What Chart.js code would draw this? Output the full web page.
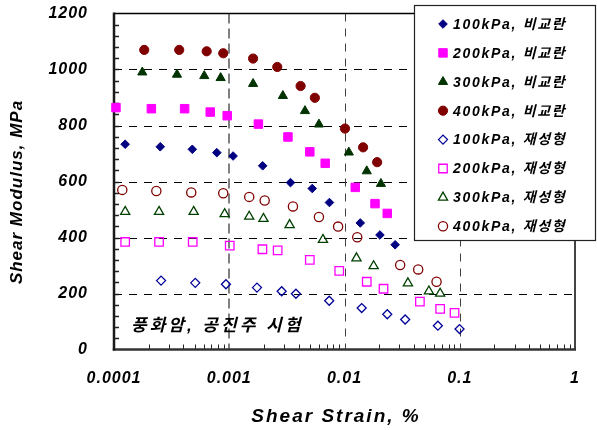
<!DOCTYPE html>
<html>
<head>
<meta charset="utf-8">
<script src="https://cdn.jsdelivr.net/npm/chart.js@4/dist/chart.umd.min.js"></script>
<style>
  html, body { margin: 0; padding: 0; background: #fff; }
  #chart { display: block; width: 597px; height: 430px; }
</style>
</head>
<body>
<canvas id="chart" width="597" height="430"></canvas>
<script>
// ---- data ----
const seriesLabels = [
  '100kPa, 비교란', '200kPa, 비교란', '300kPa, 비교란', '400kPa, 비교란',
  '100kPa, 재성형', '200kPa, 재성형', '300kPa, 재성형', '400kPa, 재성형'
];

// undisturbed (비교란)
const strain100U = [0.000125, 0.000252, 0.000478, 0.00078, 0.00108, 0.00195, 0.0034, 0.00525, 0.0074, 0.0137, 0.0203, 0.0275];
const modulus100U = [733, 724, 715, 703, 691, 656, 596, 575, 525, 452, 409, 374];
const strain200U = [0.000104, 0.000211, 0.00041, 0.000684, 0.00096, 0.00179, 0.00323, 0.0050, 0.0068, 0.0124, 0.0184, 0.0235];
const modulus200U = [864, 860, 860, 848, 835, 805, 759, 706, 665, 579, 521, 486];
const strain300U = [0.000176, 0.000352, 0.000607, 0.000842, 0.00161, 0.00292, 0.00454, 0.0060, 0.0109, 0.0156, 0.0207];
const modulus300U = [990, 982, 977, 970, 949, 906, 852, 804, 704, 637, 592];
const strain400U = [0.000183, 0.000368, 0.000637, 0.000887, 0.00161, 0.00261, 0.00416, 0.00553, 0.0101, 0.0145, 0.0192];
const modulus400U = [1070, 1070, 1065, 1058, 1039, 1009, 941, 899, 789, 722, 669];

// remolded (재성형)
const strain100R = [0.000256, 0.000507, 0.000936, 0.00174, 0.00285, 0.00379, 0.00737, 0.0141, 0.0235, 0.0336, 0.0646, 0.0996];
const modulus100R = [246, 238, 233, 221, 208, 199, 174, 148, 126, 107, 85, 73];
const strain200R = [0.000125, 0.000246, 0.000482, 0.00101, 0.00194, 0.00263, 0.0050, 0.0090, 0.0156, 0.0218, 0.0451, 0.0676, 0.0901];
const modulus200R = [384, 384, 384, 371, 358, 354, 320, 281, 242, 217, 171, 145, 131];
const strain300R = [0.000125, 0.000246, 0.000491, 0.000912, 0.00149, 0.00198, 0.00334, 0.0065, 0.0127, 0.0179, 0.0355, 0.054, 0.0676];
const modulus300R = [492, 492, 492, 484, 475, 467, 445, 392, 326, 298, 237, 208, 200];
const strain400R = [0.000118, 0.000233, 0.000468, 0.000887, 0.00149, 0.00203, 0.00357, 0.0060, 0.0088, 0.0129, 0.0304, 0.0436, 0.0629];
const modulus400R = [570, 566, 561, 558, 545, 532, 511, 473, 439, 401, 302, 286, 242];

const xTickValues = [0.0001, 0.001, 0.01, 0.1, 1];
const xTickLabels = ['0.0001', '0.001', '0.01', '0.1', '1'];
const yMin = 0, yMax = 1200, yStep = 200, yMinorStep = 40;

const xTitle = 'Shear Strain, %';
const yTitle = 'Shear Modulus, MPa';
const noteText = '풍화암, 공진주 시험';

// ---- styles ----
const FONT = '"Liberation Sans", Arial, "Noto Sans CJK KR", sans-serif';
const markerStyles = [
  { shape: 'rectRot',  color: '#000080', filled: true,  r: 4.3 },
  { shape: 'rect',     color: '#ff00ff', filled: true,  r: 6 },
  { shape: 'triangle', color: '#003300', filled: true,  r: 5.3 },
  { shape: 'circle',   color: '#800000', filled: true,  r: 4.6 },
  { shape: 'rectRot',  color: '#000099', filled: false, r: 4.5 },
  { shape: 'rect',     color: '#ff00ff', filled: false, r: 6 },
  { shape: 'triangle', color: '#004000', filled: false, r: 5.3 },
  { shape: 'circle',   color: '#800000', filled: false, r: 4.6 }
];

const xs = [strain100U, strain200U, strain300U, strain400U, strain100R, strain200R, strain300R, strain400R];
const ys = [modulus100U, modulus200U, modulus300U, modulus400U, modulus100R, modulus200R, modulus300R, modulus400R];

function pairs(a, b) {
  return a.map((x, i) => ({ x: x, y: b[i] }));
}

const datasets = seriesLabels.map((label, i) => {
  const s = markerStyles[i];
  return {
    label: label,
    data: pairs(xs[i], ys[i]),
    pointStyle: s.shape,
    pointRadius: s.r,
    pointBorderWidth: s.filled ? 1 : 1.3,
    pointBackgroundColor: s.filled ? s.color : 'rgba(0,0,0,0)',
    pointBorderColor: s.color,
    showLine: false,
    clip: false
  };
});

function line(ctx, x1, y1, x2, y2) {
  ctx.beginPath();
  ctx.moveTo(x1, y1);
  ctx.lineTo(x2, y2);
  ctx.stroke();
}

function noPadding(s) {
  s.paddingTop = 0;
  s.paddingBottom = 0;
  s.paddingLeft = 0;
  s.paddingRight = 0;
}

// grid, minor ticks, frame, legend box and texts
const framePlugin = {
  id: 'frame',
  beforeDraw(chart) {
    chart.ctx.letterSpacing = '1px';
  },
  beforeDatasetsDraw(chart) {
    const ctx = chart.ctx;
    const a = chart.chartArea;
    const x = chart.scales.x, y = chart.scales.y;
    ctx.save();

    // horizontal dashed grid
    ctx.setLineDash([8, 7]);
    ctx.strokeStyle = '#000';
    ctx.lineWidth = 1;
    for (let v = yMin + yStep; v < yMax; v += yStep) {
      const py = Math.round(y.getPixelForValue(v)) + 0.5;
      line(ctx, a.left, py, a.right, py);
    }
    // vertical dashed grid
    xTickValues.slice(1, -1).forEach((v, i) => {
      const px = Math.round(x.getPixelForValue(v));
      ctx.strokeStyle = i === 0 ? '#808080' : '#404040';
      ctx.lineWidth = i === 0 ? 2 : 1;
      ctx.setLineDash(i === 0 ? [10, 5] : [8, 7]);
      line(ctx, px + (i === 0 ? 0 : 0.5), a.top, px + (i === 0 ? 0 : 0.5), a.bottom);
    });
    ctx.setLineDash([]);

    // minor ticks
    ctx.strokeStyle = '#222';
    ctx.lineWidth = 1.5;
    for (let v = yMin + yMinorStep; v < yMax; v += yMinorStep) {
      const py = Math.round(y.getPixelForValue(v)) + 0.5;
      line(ctx, a.left, py, a.left + 5, py);
    }
    ctx.lineWidth = 1;
    for (let d = 0; d < xTickValues.length - 1; d++) {
      for (let k = 2; k <= 9; k++) {
        const px = Math.round(x.getPixelForValue(xTickValues[d] * k)) + 0.5;
        line(ctx, px, a.bottom, px, a.bottom - 5);
      }
    }

    // frame
    ctx.strokeStyle = '#000';
    ctx.lineWidth = 1.5;
    line(ctx, a.left, a.top, a.right, a.top);
    ctx.strokeStyle = '#444';
    ctx.lineWidth = 2;
    line(ctx, a.right, a.top, a.right, a.bottom);
    ctx.strokeStyle = '#333';
    ctx.lineWidth = 2.5;
    line(ctx, a.left - 1.25, a.bottom, a.right + 1, a.bottom);
    ctx.strokeStyle = '#1a1a1a';
    line(ctx, a.left, a.top - 1, a.left, a.bottom + 1);
    ctx.restore();
  },
  afterDatasetsDraw(chart) {
    const ctx = chart.ctx;
    ctx.save();

    // legend box
    ctx.fillStyle = '#fff';
    ctx.fillRect(414.5, 5.5, 181, 235);
    ctx.strokeStyle = '#222';
    ctx.lineWidth = 1.2;
    ctx.strokeRect(414.5, 5.5, 181, 235);

    chart.data.datasets.forEach((ds, i) => {
      const cy = 24 + i * 28.9;
      ctx.fillStyle = ds.pointBackgroundColor;
      ctx.strokeStyle = ds.pointBorderColor;
      ctx.lineWidth = ds.pointBorderWidth;
      Chart.helpers.drawPoint(ctx, {
        pointStyle: ds.pointStyle,
        radius: ds.pointRadius,
        borderWidth: ds.pointBorderWidth,
        rotation: 0
      }, 443, cy);
      ctx.fillStyle = '#000';
      ctx.font = 'italic bold 14px ' + FONT;
      ctx.letterSpacing = '1.7px';
      ctx.textAlign = 'left';
      ctx.textBaseline = 'middle';
      ctx.fillText(ds.label, 453, cy + 1);
    });

    // note inside the plot
    ctx.fillStyle = '#000';
    ctx.font = 'italic bold 17px ' + FONT;
    ctx.letterSpacing = '3px';
    ctx.textAlign = 'left';
    ctx.textBaseline = 'middle';
    ctx.fillText(noteText, 131, 326);

    // axis titles
    ctx.font = 'italic bold 19px ' + FONT;
    ctx.letterSpacing = '2px';
    ctx.textAlign = 'center';
    ctx.fillText(xTitle, 336, 417);

    ctx.translate(17, 192);
    ctx.rotate(-Math.PI / 2);
    ctx.font = 'italic bold 17px ' + FONT;
    ctx.letterSpacing = '1px';
    ctx.fillText(yTitle, 0, 0);
    ctx.restore();
  }
};

const tickFont = { family: FONT, size: 16, style: 'italic', weight: 'bold' };

new Chart(document.getElementById('chart').getContext('2d'), {
  type: 'scatter',
  data: { datasets: datasets },
  options: {
    responsive: false,
    animation: false,
    devicePixelRatio: 1,
    layout: { padding: { top: 13.5, right: 22, bottom: 0, left: 0 } },
    plugins: {
      legend: { display: false },
      tooltip: { enabled: false }
    },
    scales: {
      x: {
        type: 'logarithmic',
        min: xTickValues[0],
        max: xTickValues[xTickValues.length - 1],
        grid: { display: false },
        border: { display: false },
        afterBuildTicks: (s) => { s.ticks = xTickValues.map(v => ({ value: v })); },
        afterFit: (s) => { s.height = 80.5; noPadding(s); },
        ticks: {
          autoSkip: false,
          maxRotation: 0,
          padding: 11,
          color: '#000',
          font: tickFont,
          callback: (v) => {
            const i = xTickValues.findIndex(t => Math.abs(Math.log10(t) - Math.log10(v)) < 1e-6);
            return i >= 0 ? xTickLabels[i] : '';
          }
        }
      },
      y: {
        min: yMin,
        max: yMax,
        grid: { display: false },
        border: { display: false },
        afterFit: (s) => { s.width = 114; noPadding(s); },
        ticks: {
          stepSize: yStep,
          padding: 18,
          color: '#000',
          font: tickFont,
          callback: (v) => String(v)
        }
      }
    }
  },
  plugins: [framePlugin]
});
</script>
</body>
</html>
